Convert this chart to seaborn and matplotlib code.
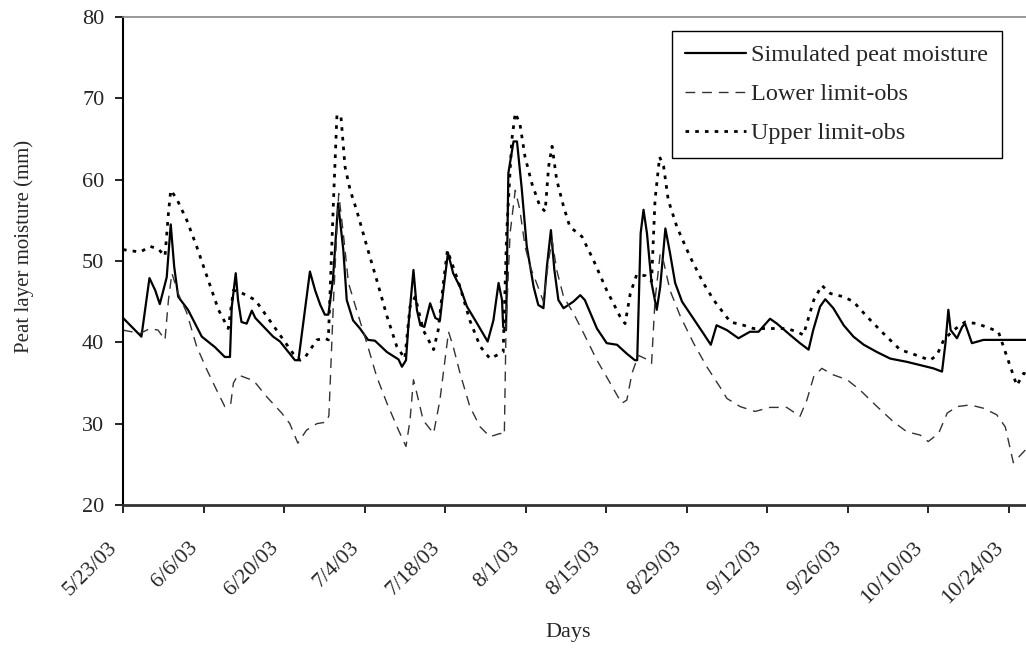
import matplotlib
matplotlib.use("Agg")
import matplotlib.pyplot as plt
import matplotlib.transforms as mtransforms
import seaborn as sns
import pandas as pd
import numpy as np

start_date = "2003-05-23"

sim_day = [0, 3.2, 4.6, 5.6, 6.4, 7.6, 8.3, 8.9, 9.6, 11.3,
           13.7, 16, 17.7, 18.6, 18.9, 19.6, 20, 20.6, 21.5, 22.4,
           23, 26.1, 27.3, 29.9, 30.5, 32.5, 33.4, 34.3, 35.1, 35.7,
           36.5, 37.4, 38.3, 38.9, 40, 41.2, 42.6, 43.8, 45.9, 47.9,
           48.5, 49.2, 49.6, 50.5, 51.1, 51.7, 52.4, 53.4, 54.3, 55.1,
           55.7, 56.5, 57.4, 58.6, 59.8, 61.5, 63.4, 64.4, 65.3, 65.9,
           66.1, 66.6, 67, 67.9, 68.5, 69.3, 70.2, 71.4, 72.2, 73.1,
           73.7, 74.4, 75, 75.7, 76.6, 78.3, 79.5, 80.3, 82.4, 84.1,
           85.9, 87.6, 89, 89.4, 90, 90.5, 91.1, 91.9, 92.8, 93.4,
           94.3, 95.1, 96, 97.2, 99.2, 100.9, 102.2, 103.2, 105, 107,
           109, 110.5, 112.5, 113.7, 116, 117.7, 119.2, 120, 121.2, 122.1,
           123.5, 125.3, 127, 128.8, 131.1, 133.4, 136.3, 138.6, 140.9, 142.4,
           143, 143.5, 143.9, 145, 145.9, 146.4, 147, 147.6, 149.6, 157.2]
sim_val = [43.0, 40.7, 47.9, 46.4, 44.7, 48.0, 54.5, 49.3, 45.6, 44.0,
           40.7, 39.4, 38.2, 38.2, 44.3, 48.5, 45.2, 42.5, 42.3, 43.9,
           43.0, 40.7, 40.1, 37.8, 37.8, 48.7, 46.4, 44.6, 43.4, 43.4,
           47.7, 57.1, 51.4, 45.2, 42.7, 41.7, 40.3, 40.2, 38.8, 37.9,
           37.0, 37.8, 41.9, 48.9, 44.0, 42.1, 41.9, 44.8, 43.0, 42.7,
           46.4, 51.0, 48.5, 46.8, 44.4, 42.4, 40.1, 42.7, 47.3, 45.2,
           41.9, 41.5, 60.8, 64.7, 64.7, 59.1, 51.8, 46.8, 44.6, 44.2,
           49.3, 53.8, 48.9, 45.2, 44.2, 45.0, 45.8, 45.2, 41.7, 39.9,
           39.7, 38.6, 37.8, 37.8, 53.4, 56.3, 53.4, 47.3, 44.0, 46.8,
           54.0, 51.0, 47.3, 45.0, 42.9, 41.1, 39.7, 42.1, 41.5, 40.5,
           41.3, 41.3, 42.9, 42.3, 40.9, 39.9, 39.1, 41.5, 44.4, 45.3,
           44.2, 42.1, 40.7, 39.7, 38.8, 38.0, 37.6, 37.2, 36.8, 36.4,
           39.9, 44.0, 41.5, 40.5, 41.9, 42.3, 41.1, 39.9, 40.3, 40.3]

up_day = [0, 3, 4.7, 6.1, 7.3, 7.9, 8.3, 9.3, 11.1, 12.8,
          14.6, 16.6, 18.3, 19.2, 20.3, 23, 25, 27.3, 29.6, 30.8,
          31.7, 33.7, 35.1, 35.7, 36.6, 37.2, 37.9, 38.6, 39.5, 40.6,
          42.4, 44.1, 45.9, 47.6, 49, 49.9, 50.8, 52.2, 54, 54.8,
          55.7, 56.4, 57.4, 58.6, 60.3, 62.1, 63.8, 66.1, 66.7, 67.6,
          68.2, 69, 69.9, 71.1, 72.5, 73.4, 74, 74.6, 75.4, 76.6,
          77.7, 79.8, 81.8, 84.1, 86.4, 87.3, 88.2, 89.3, 90.8, 91.9,
          92.5, 93.3, 94, 94.8, 96.3, 98.6, 100.9, 102.7, 105.6, 107.9,
          109.6, 112.5, 115.4, 117.2, 118.3, 120.1, 121.5, 123, 125.3, 127,
          129.3, 132.2, 135.1, 138, 140.3, 141.5, 142.7, 144.4, 146.4, 148.5,
          150.8, 152.2, 153.7, 155.4, 156.6, 157.2]
up_val = [51.4, 51.1, 51.8, 51.5, 50.6, 55.9, 58.7, 57.7, 55.0, 51.8,
          48.1, 44.0, 41.7, 46.4, 46.2, 45.2, 43.2, 40.9, 38.6, 37.8,
          38.2, 40.3, 40.5, 40.3, 57.5, 68.0, 67.7, 61.6, 58.7, 56.3,
          51.8, 47.7, 43.2, 39.5, 38.0, 44.4, 45.6, 41.5, 39.1, 41.5,
          47.3, 51.3, 49.3, 46.8, 42.7, 39.5, 38.0, 38.8, 53.4, 64.9,
          68.2, 66.9, 62.8, 59.5, 56.7, 56.1, 61.6, 64.1, 60.0, 56.7,
          54.2, 53.0, 50.1, 46.4, 43.2, 42.3, 46.0, 48.3, 48.2, 47.5,
          57.5, 62.8, 61.6, 57.5, 54.2, 50.5, 47.3, 45.2, 42.5, 42.1,
          41.7, 41.7, 41.7, 41.3, 40.9, 45.2, 47.0, 46.0, 45.6, 45.0,
          43.2, 41.1, 39.1, 38.4, 37.8, 38.4, 40.3, 41.5, 42.5, 42.3,
          41.7, 41.3, 38.2, 34.7, 36.2, 36.0]

lo_day = [0, 3, 4.7, 6.1, 7.3, 7.9, 8.5, 9.6, 11.1, 12.8,
          14.6, 16.3, 17.7, 18.7, 19.2, 20, 21.5, 22.7, 25, 27.6,
          29, 30.4, 31.9, 33.7, 35.4, 35.8, 36.6, 37.5, 38.3, 39.2,
          40.6, 42.4, 44.1, 45.9, 47.9, 49.2, 49.9, 50.5, 51.1, 52.2,
          54, 55.1, 56.6, 57.4, 58.6, 60.3, 62.1, 63.8, 65.6, 66.3,
          66.6, 67.3, 68.2, 69, 69.9, 70.8, 71.9, 73.1, 74, 74.6,
          75.4, 76.6, 78.3, 80.1, 82.4, 84.7, 86.7, 87.6, 88.5, 89.6,
          90.8, 91.9, 92.5, 93.4, 94, 95.1, 96.9, 99.2, 101.5, 103.8,
          105, 107.3, 109.9, 112.5, 115.4, 117.7, 118.9, 120.1, 121.5, 123.5,
          125.9, 128.2, 131.1, 134, 136.3, 138.6, 140, 141.8, 143.3, 145,
          147.3, 149.6, 151.9, 153.4, 154.8, 157.2]
lo_val = [41.5, 41.1, 41.7, 41.5, 40.3, 45.2, 48.5, 46.0, 43.6, 39.5,
          36.6, 34.1, 32.1, 32.3, 35.0, 36.0, 35.6, 35.3, 33.3, 31.3,
          30.0, 27.6, 29.2, 30.0, 30.2, 31.0, 45.2, 58.3, 53.4, 47.3,
          44.0, 39.9, 35.8, 32.5, 29.2, 27.2, 30.4, 35.4, 33.7, 30.4,
          28.8, 32.9, 41.3, 39.5, 36.2, 32.1, 29.6, 28.4, 28.8, 28.6,
          42.0, 53.4, 58.7, 56.3, 51.8, 49.3, 47.3, 45.0, 50.1, 52.6,
          48.9, 45.6, 43.6, 41.1, 37.8, 35.0, 32.5, 32.9, 36.2, 38.4,
          38.0, 37.4, 45.2, 50.9, 49.9, 46.4, 43.2, 39.9, 37.0, 34.5,
          33.1, 32.1, 31.5, 32.0, 32.0, 30.9, 32.9, 35.8, 36.8, 36.0,
          35.4, 34.1, 32.1, 30.2, 29.0, 28.6, 27.8, 28.8, 31.3, 32.1,
          32.3, 31.9, 31.1, 29.6, 25.2, 27.0]

series_names = ["Simulated peat moisture", "Lower limit-obs", "Upper limit-obs"]
tick_labels = ["5/23/03", "6/6/03", "6/20/03", "7/4/03", "7/18/03", "8/1/03",
               "8/15/03", "8/29/03", "9/12/03", "9/26/03", "10/10/03", "10/24/03"]
y_ticks = [20, 30, 40, 50, 60, 70, 80]

sns.set_style("ticks")
plt.rcParams["font.family"] = ["Liberation Serif", "DejaVu Serif"]

t0 = pd.Timestamp(start_date)
def to_dates(days):
    return t0 + pd.to_timedelta(np.asarray(days, dtype=float), unit="D")

df_sim = pd.DataFrame({"date": to_dates(sim_day), "v": sim_val})
df_lo = pd.DataFrame({"date": to_dates(lo_day), "v": lo_val})
df_up = pd.DataFrame({"date": to_dates(up_day), "v": up_val})

fig = plt.figure(figsize=(10.26, 6.51), dpi=100)
ax = fig.add_axes([123/1026, 1-505/651, (1026-123)/1026, (505-17)/651])

sns.lineplot(data=df_sim, x="date", y="v", ax=ax, color="black", linewidth=1.6,
             label=series_names[0])
sns.lineplot(data=df_lo, x="date", y="v", ax=ax, color="#333333", linewidth=1.0,
             linestyle=(0, (7, 5)), label=series_names[1])
sns.lineplot(data=df_up, x="date", y="v", ax=ax, color="black", linewidth=2.0,
             linestyle=(0, (1.3, 2.2)), label=series_names[2])

tick_dates = [t0 + pd.Timedelta(days=14*i) for i in range(len(tick_labels))]
ax.set_xticks(tick_dates)
ax.set_xticklabels(tick_labels, rotation=45, ha="right", va="center_baseline",
                   rotation_mode="anchor", fontsize=16)
ax.set_xlim(t0, t0 + pd.Timedelta(days=157.0))
ax.set_ylim(20, 80)
ax.set_yticks(y_ticks)
ax.set_yticklabels([str(v) for v in y_ticks], fontsize=16)
ax.tick_params(axis="both", direction="out", length=5.5, width=1.2, color="black")
ax.tick_params(axis="y", pad=8)
ax.tick_params(axis="x", pad=22)
shift = mtransforms.ScaledTranslation(-0.10, 0, fig.dpi_scale_trans)
for lab in ax.get_xticklabels():
    lab.set_transform(lab.get_transform() + shift)

ax.spines["left"].set_color("black")
ax.spines["left"].set_linewidth(1.5)
ax.spines["bottom"].set_color("#333333")
ax.spines["bottom"].set_linewidth(2.0)
ax.spines["top"].set_visible(True)
ax.spines["top"].set_color("#888888")
ax.spines["top"].set_linewidth(1.2)
ax.spines["right"].set_visible(False)

ax.set_xlabel("Days", fontsize=16)
ax.xaxis.set_label_coords((568-123)/903, (505-633)/488)
ax.xaxis.label.set_va("center")
ax.set_ylabel("Peat layer moisture (mm)", fontsize=15)
ax.yaxis.set_label_coords((24-123)/903, (505-246)/488)
ax.yaxis.label.set_va("center")

leg = ax.legend(loc="upper right", bbox_to_anchor=(0.9731, 0.9719), borderaxespad=0,
                fontsize=17.5, frameon=True, fancybox=False, handlelength=2.5,
                labelspacing=0.7, handletextpad=0.23, borderpad=0.55)
leg.get_frame().set_edgecolor("black")
leg.get_frame().set_linewidth(1.0)
leg.get_frame().set_alpha(1)

fig.savefig("out.png", dpi=100)
